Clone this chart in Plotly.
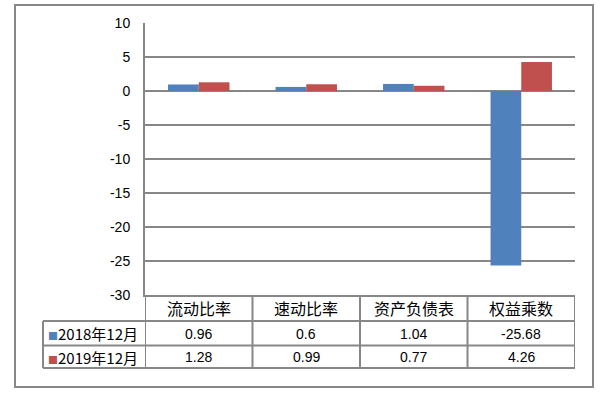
import plotly.graph_objects as go

categories = ["流动比率", "速动比率", "资产负债表", "权益乘数"]
series_names = ["2018年12月", "2019年12月"]
values_2018 = [0.96, 0.6, 1.04, -25.68]
values_2019 = [1.28, 0.99, 0.77, 4.26]
colors = ["#4F81BD", "#C0504D"]
y_ticks = [-30, -25, -20, -15, -10, -5, 0, 5, 10]

W, H = 616, 399
L, R, T, B = 145, 41, 23, 104
pw, ph = W - L - R, H - T - B

def px_x(px):
    return (px - L) / pw

def px_y(py):
    return (H - B - py) / ph

GRID = "#878787"
NUMFONT = dict(family="Liberation Sans, Arial", size=14, color="black")
CJKFONT = dict(family="Noto Sans CJK SC", size=16, color="black")

fig = go.Figure()
for name, vals, c in zip(series_names, [values_2018, values_2019], colors):
    fig.add_trace(go.Bar(x=categories, y=vals, name=name, marker=dict(color=c, line=dict(width=0))))

shapes = []
ann = []
row_edges = [px_y(321), px_y(345.5), px_y(368)]
left = px_x(43)
# horizontal table lines
for ye in row_edges:
    shapes.append(dict(type="line", xref="paper", yref="paper", x0=left, x1=1, y0=ye, y1=ye,
                       line=dict(color=GRID, width=2)))
# vertical column lines
for i in range(len(categories) + 1):
    shapes.append(dict(type="line", xref="x", yref="paper", x0=i - 0.5, x1=i - 0.5, y0=0, y1=row_edges[-1],
                       line=dict(color=GRID, width=2)))
shapes.append(dict(type="line", xref="paper", yref="paper", x0=left, x1=left, y0=row_edges[0], y1=row_edges[-1],
                   line=dict(color=GRID, width=2)))
# outer border
shapes.append(dict(type="rect", xref="paper", yref="paper", x0=px_x(15), x1=px_x(593), y0=px_y(387), y1=px_y(5),
                   line=dict(color=GRID, width=2), layer="below"))

# header row
for c in categories:
    ann.append(dict(x=c, xref="x", y=px_y(308), yref="paper", text=c, showarrow=False, font=CJKFONT,
                    xanchor="center", yanchor="middle"))
# data rows
row_centers = [px_y(333.5), px_y(357)]
for name, vals, c, yc in zip(series_names, [values_2018, values_2019], colors, row_centers):
    ann.append(dict(x=px_x(46), xref="paper", y=yc, yref="paper", xanchor="left", yanchor="middle",
                    showarrow=False,
                    text=f'<span style="color:{c};font-size:10px">■</span>{name}',
                    font=dict(family="Noto Sans CJK SC", size=15, color="black")))
    for cat, v in zip(categories, vals):
        ann.append(dict(x=cat, xref="x", y=yc, yref="paper", text=f"{v:g}", showarrow=False, font=NUMFONT,
                        xanchor="center", yanchor="middle"))

fig.update_layout(
    width=W, height=H,
    margin=dict(l=L, r=R, t=T, b=B, pad=0),
    paper_bgcolor="white", plot_bgcolor="white",
    barmode="group", bargap=0.4286, bargroupgap=0,
    showlegend=False,
    shapes=shapes, annotations=ann,
    xaxis=dict(showticklabels=False, showgrid=False, zeroline=False, showline=True, linecolor=GRID,
               linewidth=2, ticks="", range=[-0.5, 3.5]),
    yaxis=dict(range=[-30, 10], tickvals=y_ticks, ticktext=[str(v) for v in y_ticks],
               showgrid=True, gridcolor=GRID, gridwidth=2, zeroline=False,
               showline=True, linecolor=GRID, linewidth=2, ticks="",
               tickfont=NUMFONT, ticklabelstandoff=10),
)

fig.write_html("out.html", config={"displayModeBar": False},
               post_script="document.body.style.margin='0';document.body.style.overflow='hidden';")
